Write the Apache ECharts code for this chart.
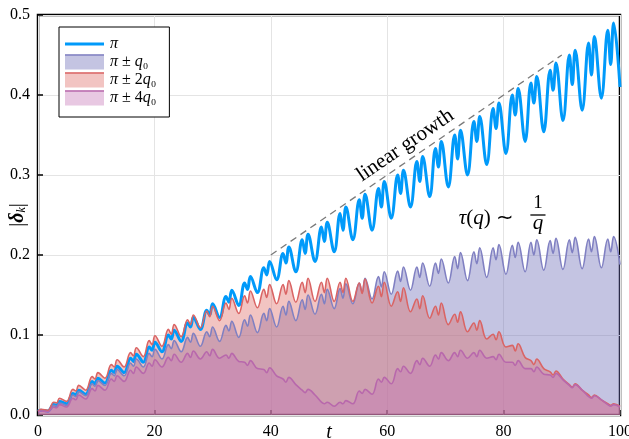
<!DOCTYPE html>
<html><head><meta charset="utf-8">
<script src="https://cdn.jsdelivr.net/npm/echarts@6/dist/echarts.min.js"></script>
<style>html,body{margin:0;padding:0;background:#fff}#c{width:629px;height:439px}</style>
</head><body><div id="c"></div>
<script>
// ---- data ----
const t = [0, 0.5, 1.7,
2.7, 3.2, 3.7, 4.9,
6.0, 6.5, 7.0, 8.2,
9.3, 9.8, 10.3, 11.5,
12.6, 13.1, 13.6, 14.8,
15.9, 16.4, 16.9, 18.1,
19.1, 19.6, 20.1, 21.3,
22.4, 22.9, 23.4, 24.6,
25.7, 26.2, 26.7, 27.9,
29.0, 29.5, 30.0, 31.2,
32.3, 32.8, 33.3, 34.5,
35.5, 36.0, 36.5, 37.7,
38.8, 39.3, 39.8, 41.0,
42.1, 42.6, 43.1, 44.3,
45.4, 45.9, 46.4, 47.6,
48.7, 49.2, 49.7, 50.9,
51.9, 52.4, 52.9, 54.1,
55.2, 55.7, 56.2, 57.4,
58.5, 59.0, 59.5, 60.7,
61.8, 62.3, 62.8, 64.0,
65.1, 65.6, 66.1, 67.3,
68.3, 68.8, 69.3, 70.5,
71.6, 72.1, 72.6, 73.8,
74.9, 75.4, 75.9, 77.1,
78.2, 78.7, 79.2, 80.4,
81.5, 82.0, 82.5, 83.7,
84.7, 85.2, 85.7, 86.9,
88.0, 88.5, 89.0, 90.2,
91.3, 91.8, 92.3, 93.5,
94.6, 95.1, 95.6, 96.8,
97.9, 98.4, 98.9, 100];

const piVals = [0.005, 0.006, 0.005,
0.013, 0.012, 0.017, 0.014,
0.027, 0.025, 0.031, 0.026,
0.042, 0.039, 0.046, 0.040,
0.056, 0.053, 0.061, 0.053,
0.071, 0.067, 0.076, 0.066,
0.085, 0.081, 0.091, 0.079,
0.100, 0.095, 0.106, 0.092,
0.115, 0.110, 0.122, 0.107,
0.131, 0.125, 0.139, 0.122,
0.148, 0.141, 0.156, 0.137,
0.165, 0.157, 0.173, 0.153,
0.184, 0.175, 0.192, 0.169,
0.202, 0.190, 0.210, 0.179,
0.219, 0.202, 0.226, 0.192,
0.235, 0.217, 0.241, 0.204,
0.252, 0.231, 0.260, 0.219,
0.269, 0.246, 0.276, 0.231,
0.283, 0.260, 0.292, 0.246,
0.300, 0.277, 0.306, 0.260,
0.317, 0.292, 0.323, 0.273,
0.333, 0.310, 0.342, 0.285,
0.350, 0.320, 0.356, 0.300,
0.367, 0.342, 0.373, 0.313,
0.383, 0.358, 0.390, 0.327,
0.400, 0.375, 0.408, 0.342,
0.415, 0.390, 0.423, 0.354,
0.431, 0.406, 0.440, 0.368,
0.450, 0.413, 0.456, 0.381,
0.465, 0.425, 0.473, 0.396,
0.481, 0.438, 0.490, 0.410];

const q1Vals = [0.005, 0.006, 0.005,
0.012, 0.011, 0.015, 0.012,
0.025, 0.023, 0.029, 0.024,
0.039, 0.036, 0.043, 0.037,
0.052, 0.049, 0.057, 0.049,
0.065, 0.061, 0.070, 0.060,
0.077, 0.073, 0.082, 0.070,
0.088, 0.083, 0.093, 0.079,
0.097, 0.091, 0.102, 0.086,
0.104, 0.098, 0.110, 0.092,
0.112, 0.105, 0.117, 0.097,
0.119, 0.111, 0.125, 0.103,
0.127, 0.118, 0.133, 0.110,
0.136, 0.125, 0.142, 0.118,
0.144, 0.132, 0.150, 0.126,
0.151, 0.139, 0.157, 0.133,
0.158, 0.146, 0.164, 0.139,
0.165, 0.153, 0.171, 0.145,
0.173, 0.160, 0.179, 0.151,
0.180, 0.167, 0.185, 0.156,
0.185, 0.172, 0.190, 0.161,
0.190, 0.177, 0.195, 0.165,
0.198, 0.183, 0.203, 0.168,
0.204, 0.189, 0.209, 0.172,
0.209, 0.194, 0.213, 0.176,
0.212, 0.197, 0.216, 0.179,
0.216, 0.200, 0.219, 0.181,
0.218, 0.202, 0.221, 0.182,
0.219, 0.203, 0.222, 0.183,
0.220, 0.204, 0.223, 0.184,
0.220, 0.204, 0.223, 0.188];

const q2Vals = [0.005, 0.007, 0.006,
0.016, 0.015, 0.021, 0.017,
0.032, 0.030, 0.037, 0.031,
0.048, 0.045, 0.053, 0.046,
0.063, 0.060, 0.069, 0.060,
0.078, 0.074, 0.084, 0.073,
0.093, 0.088, 0.099, 0.086,
0.107, 0.101, 0.113, 0.098,
0.119, 0.113, 0.125, 0.109,
0.130, 0.123, 0.136, 0.118,
0.140, 0.132, 0.146, 0.127,
0.149, 0.140, 0.155, 0.134,
0.157, 0.147, 0.163, 0.139,
0.163, 0.151, 0.168, 0.141,
0.166, 0.153, 0.171, 0.142,
0.166, 0.153, 0.171, 0.142,
0.166, 0.153, 0.171, 0.142,
0.165, 0.152, 0.170, 0.140,
0.161, 0.148, 0.166, 0.136,
0.154, 0.142, 0.159, 0.129,
0.145, 0.133, 0.149, 0.121,
0.136, 0.125, 0.140, 0.113,
0.126, 0.116, 0.129, 0.104,
0.115, 0.106, 0.118, 0.095,
0.101, 0.094, 0.104, 0.085,
0.087, 0.080, 0.089, 0.072,
0.068, 0.063, 0.070, 0.058,
0.054, 0.050, 0.055, 0.045,
0.038, 0.035, 0.039, 0.031,
0.025, 0.022, 0.025, 0.019,
0.014, 0.012, 0.014, 0.011];

const q4Vals = [0.004, 0.005, 0.004,
0.010, 0.009, 0.013, 0.010,
0.021, 0.019, 0.025, 0.020,
0.033, 0.030, 0.037, 0.031,
0.045, 0.042, 0.049, 0.042,
0.056, 0.052, 0.060, 0.052,
0.065, 0.061, 0.069, 0.060,
0.072, 0.068, 0.076, 0.066,
0.077, 0.072, 0.080, 0.070,
0.079, 0.074, 0.082, 0.071,
0.075, 0.071, 0.077, 0.067,
0.066, 0.062, 0.068, 0.058,
0.057, 0.053, 0.059, 0.049,
0.045, 0.041, 0.047, 0.038,
0.031, 0.028, 0.032, 0.025,
0.016, 0.014, 0.016, 0.011,
0.016, 0.014, 0.018, 0.014,
0.030, 0.027, 0.032, 0.026,
0.045, 0.041, 0.047, 0.039,
0.058, 0.054, 0.061, 0.052,
0.068, 0.063, 0.071, 0.061,
0.075, 0.070, 0.078, 0.068,
0.078, 0.073, 0.081, 0.071,
0.078, 0.073, 0.081, 0.071,
0.073, 0.069, 0.076, 0.066,
0.066, 0.062, 0.068, 0.058,
0.058, 0.054, 0.060, 0.051,
0.050, 0.047, 0.052, 0.044,
0.037, 0.034, 0.038, 0.031,
0.023, 0.021, 0.024, 0.019,
0.013, 0.011, 0.013, 0.010];

const guideT = [40, 90];
const guideV = [0.2, 0.45];
const seriesNames = ['π', 'π ± q0', 'π ± 2q0', 'π ± 4q0'];
const legendLabels = ['{i|π}', '{i|π} ± {i|q}₀', '{i|π} ± 2{i|q}₀', '{i|π} ± 4{i|q}₀'];
const annotationText = 'linear growth';

// ---- styling ----
const FONT = 'Liberation Serif';
const BLUE = '#009AFA';
const LINE_C = ['#8080C2', '#DA6464', '#B868AC'];
const FILL_C = ['#6B6BB6', '#DE6B66', '#C575B6'];
const SWATCH_C = ['#C4C4E2', '#F2C4C2', '#E8C8E2'];

function pairs(xs, ys) { return xs.map((x, i) => [x, ys[i]]); }

const chart = echarts.init(document.getElementById('c'), null, {renderer: 'canvas'});

function areaSeries(idx, vals) {
  return {
    name: seriesNames[idx + 1], type: 'line', data: pairs(t, vals),
    symbol: 'none', showSymbol: false, smooth: 0.4,
    lineStyle: {color: LINE_C[idx], width: 1.6},
    itemStyle: {color: LINE_C[idx]},
    areaStyle: {color: FILL_C[idx], opacity: 0.4},
    emphasis: {disabled: true}, silent: true
  };
}

const option = {
  animation: false,
  backgroundColor: '#fff',
  grid: {left: 38, right: 9, top: 15, bottom: 24, containLabel: false, outerBoundsMode: 'none',
         show: true, borderColor: '#000', borderWidth: 2.5, backgroundColor: 'transparent'},
  xAxis: {
    type: 'value', min: 0, max: 100, interval: 20,
    name: 't', nameLocation: 'middle', nameGap: 8, nameMoveOverlap: false,
    nameTextStyle: {fontFamily: FONT, fontSize: 20, fontStyle: 'italic', color: '#000'},
    axisLine: {show: false},
    axisTick: {show: true, inside: true, length: 5, lineStyle: {color: '#000', width: 1.5}},
    axisLabel: {fontFamily: FONT, fontSize: 16, color: '#000', margin: 9},
    splitLine: {show: true, lineStyle: {color: '#e4e4e4', width: 1}}
  },
  yAxis: {
    type: 'value', min: 0, max: 0.5, interval: 0.1,
    name: '|{b|δ}{s|k}|', nameLocation: 'middle', nameGap: 10, nameRotate: 90, nameMoveOverlap: false,
    nameTextStyle: {fontFamily: FONT, fontSize: 20, color: '#000',
      rich: {b: {fontFamily: FONT, fontSize: 20, fontWeight: 'bold', fontStyle: 'italic', color: '#000'},
             s: {fontFamily: FONT, fontSize: 12, fontStyle: 'italic', color: '#000', verticalAlign: 'bottom', padding: [8, 0, 0, 0]}}},
    axisLine: {show: false},
    axisTick: {show: true, inside: true, length: 5, lineStyle: {color: '#000', width: 1.5}},
    axisLabel: {fontFamily: FONT, fontSize: 16, color: '#000', margin: 8, formatter: v => v.toFixed(1)},
    splitLine: {show: true, lineStyle: {color: '#e4e4e4', width: 1}}
  },
  legend: {
    orient: 'vertical', left: 59, top: 27,
    itemWidth: 39, itemHeight: 15, itemGap: 2,
    padding: [9, 13, 11, 6],
    backgroundColor: '#fff', borderColor: '#000', borderWidth: 1, borderRadius: 0,
    selectedMode: false,
    textStyle: {fontFamily: FONT, fontSize: 16, color: '#000', padding: [0, 0, 0, 1],
      rich: {i: {fontFamily: FONT, fontSize: 16, fontStyle: 'italic', color: '#000'}}},
    formatter: name => legendLabels[seriesNames.indexOf(name)],
    data: [
      {name: seriesNames[0], icon: 'path://M0,0H39V3H0Z', itemStyle: {color: BLUE, borderWidth: 0}},
      {name: seriesNames[1], icon: 'rect', itemStyle: {color: SWATCH_C[0], borderWidth: 0}},
      {name: seriesNames[2], icon: 'rect', itemStyle: {color: SWATCH_C[1], borderWidth: 0}},
      {name: seriesNames[3], icon: 'rect', itemStyle: {color: SWATCH_C[2], borderWidth: 0}}
    ]
  },
  series: [
    {name: seriesNames[0], type: 'line', data: pairs(t, piVals), symbol: 'none', showSymbol: false, smooth: 0.4,
     lineStyle: {color: BLUE, width: 3}, itemStyle: {color: BLUE}, emphasis: {disabled: true}, silent: true},
    areaSeries(0, q1Vals),
    areaSeries(1, q2Vals),
    areaSeries(2, q4Vals),
    {name: 'guide', type: 'line', data: pairs(guideT, guideV), symbol: 'none', showSymbol: false,
     lineStyle: {color: '#7a7a7a', width: 1.3, type: [7, 5]}, emphasis: {disabled: true}, silent: true, z: 3}
  ]
};
chart.setOption(option);

// annotations placed through the chart's own coordinate conversion
const P = (x, y) => chart.convertToPixel({gridIndex: 0}, [x, y]);
const lg = P(63.1, 0.337);
const tau = P(72.3, 0.246);
const fNum = P(85.9, 0.2656);
const fBarL = P(84.6, 0.25), fBarR = P(87.2, 0.25);
const fDen = P(85.9, 0.239);
const rich = {i: {fontFamily: FONT, fontSize: 21, fontStyle: 'italic', fill: '#000'},
              r: {fontFamily: FONT, fontSize: 21, fill: '#000'}};
chart.setOption({
  graphic: [
    {type: 'text', x: lg[0], y: lg[1], rotation: 0.6, z: 10,
     style: {text: annotationText, fontFamily: FONT, fontSize: 21, fill: '#000', align: 'center', verticalAlign: 'middle'}},
    {type: 'text', x: tau[0], y: tau[1], z: 10,
     style: {text: '{i|τ}{r|(}{i|q}{r|) ∼}', rich: rich, fontFamily: FONT, fontSize: 21, fill: '#000', align: 'left', verticalAlign: 'middle'}},
    {type: 'text', x: fNum[0], y: fNum[1], z: 10,
     style: {text: '1', fontFamily: FONT, fontSize: 19, fill: '#000', align: 'center', verticalAlign: 'middle'}},
    {type: 'line', z: 10, shape: {x1: fBarL[0], y1: fBarL[1], x2: fBarR[0], y2: fBarR[1]}, style: {stroke: '#000', lineWidth: 1.3}},
    {type: 'text', x: fDen[0], y: fDen[1], z: 10,
     style: {text: 'q', fontFamily: FONT, fontSize: 21, fontStyle: 'italic', fill: '#000', align: 'center', verticalAlign: 'middle'}},
    // top edge lines of the legend swatches
    {type: 'line', z: 100, shape: {x1: 65, y1: 55, x2: 104, y2: 55}, style: {stroke: LINE_C[0], lineWidth: 1.5}},
    {type: 'line', z: 100, shape: {x1: 65, y1: 73, x2: 104, y2: 73}, style: {stroke: LINE_C[1], lineWidth: 1.5}},
    {type: 'line', z: 100, shape: {x1: 65, y1: 91, x2: 104, y2: 91}, style: {stroke: LINE_C[2], lineWidth: 1.5}}
  ]
});
</script>
</body></html>
